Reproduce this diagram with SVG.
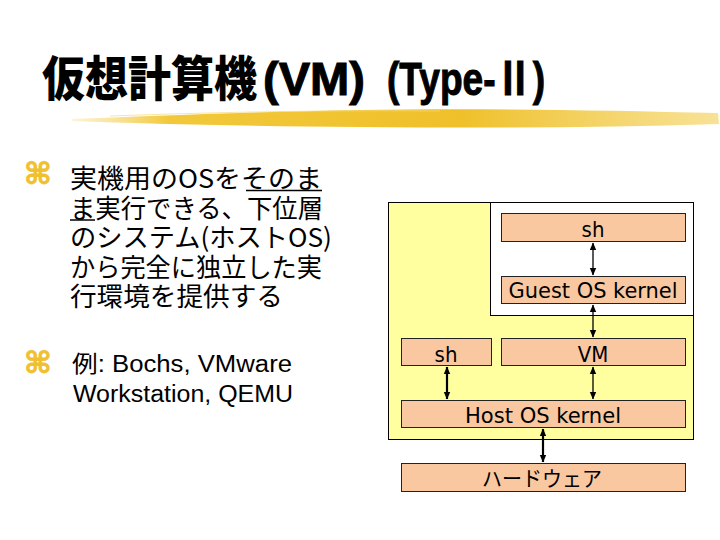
<svg xmlns="http://www.w3.org/2000/svg" width="720" height="540" viewBox="0 0 720 540">
<style>
.title{font-family:"Noto Sans CJK JP",sans-serif;font-weight:900;font-size:48px;fill:#000}
.titlel{font-family:"Liberation Sans","Noto Sans CJK JP",sans-serif;font-weight:bold;font-size:46px;fill:#000;stroke:#000;stroke-width:1}
.bul{font-family:"DejaVu Sans","Noto Sans CJK JP",sans-serif;font-weight:bold;fill:#F0C030;stroke:#F0C030;stroke-width:0.8;font-size:30px}
.body{font-family:"Noto Sans CJK JP",sans-serif;font-size:26px;fill:#000}
.body2{font-family:"Liberation Sans","Noto Sans CJK JP",sans-serif;font-size:23px;fill:#000}
.box{fill:#FAC8A0;stroke:#222;stroke-width:1}
.lbl{font-family:"DejaVu Sans Condensed","DejaVu Sans",sans-serif;font-size:22px;fill:#000;text-anchor:middle}
.lblj{font-family:"Noto Sans CJK JP",sans-serif;font-size:21px;fill:#000;text-anchor:middle}
.c1{stroke:#000;stroke-width:1.3;fill:none}
.c2{stroke:#000;stroke-width:2.2;fill:none}
</style>
<defs>
<marker id="ah" markerWidth="8" markerHeight="8" refX="7" refY="4" orient="auto-start-reverse" markerUnits="userSpaceOnUse">
<path d="M0,0.8 L7.5,4 L0,7.2 Z" fill="#000"/>
</marker>
<linearGradient id="brush" x1="0" y1="0" x2="1" y2="0">
<stop offset="0" stop-color="#F6D870" stop-opacity="0.3"/>
<stop offset="0.15" stop-color="#F2C83A"/>
<stop offset="0.6" stop-color="#EFC02A"/>
<stop offset="1" stop-color="#F3CE50" stop-opacity="0.6"/>
</linearGradient>
</defs>
<rect width="720" height="540" fill="#fff"/>
<g id="title">
<text class="title" x="42" y="96" textLength="215" lengthAdjust="spacingAndGlyphs">仮想計算機</text>
<text class="titlel" x="263" y="95" textLength="102" lengthAdjust="spacingAndGlyphs">(VM)</text>
<text class="titlel" x="387" y="95" textLength="158" lengthAdjust="spacingAndGlyphs">(Type-Ⅱ)</text>
<path d="M72,119 C150,116 250,112 360,110 C470,108 600,110 718,113 L719,124 C600,128 480,128 360,127 C250,126 150,124 72,121 Z" fill="url(#brush)"/>
<path d="M110,116 C220,112 330,110 440,111" stroke="#F7DA7A" stroke-width="1" fill="none" opacity="0.7"/>
</g>
<g id="bullets">
<text class="bul" x="24" y="184">⌘</text>
<text class="body" x="70" y="188" textLength="252" lengthAdjust="spacingAndGlyphs">実機用のOSをそのま</text>
<text class="body" x="70" y="217.5" textLength="253" lengthAdjust="spacingAndGlyphs">ま実行できる、下位層</text>
<text class="body" x="70" y="247" textLength="262" lengthAdjust="spacingAndGlyphs">のシステム(ホストOS)</text>
<text class="body" x="70" y="276.5" textLength="252" lengthAdjust="spacingAndGlyphs">から完全に独立した実</text>
<text class="body" x="70" y="306" textLength="213" lengthAdjust="spacingAndGlyphs">行環境を提供する</text>
<line x1="246" y1="190.5" x2="322" y2="190.5" stroke="#000" stroke-width="1.5"/>
<line x1="70" y1="220" x2="95" y2="220" stroke="#000" stroke-width="1.5"/>
<text class="bul" x="24" y="373">⌘</text>
<text class="body2" x="72" y="372" textLength="220" lengthAdjust="spacingAndGlyphs">例: Bochs, VMware</text>
<text class="body2" x="73" y="402" textLength="220" lengthAdjust="spacingAndGlyphs">Workstation, QEMU</text>
</g>
<g id="host-area">
<rect x="388.5" y="202.5" width="305" height="237" fill="#FFFFA0" stroke="#000" stroke-width="1"/>
</g>
<g id="guest-area">
<rect x="490.5" y="202.5" width="203" height="113" fill="#fff" stroke="#000" stroke-width="1"/>
</g>
<g id="guest-sh">
<rect class="box" x="501.5" y="213.5" width="184" height="28"/>
<text class="lbl" x="593" y="237">sh</text>
</g>
<g id="guest-kernel">
<rect class="box" x="501.5" y="276.5" width="184" height="27"/>
<text class="lbl" x="593" y="298" textLength="169" lengthAdjust="spacingAndGlyphs">Guest OS kernel</text>
</g>
<g id="host-sh">
<rect class="box" x="401.5" y="338.5" width="90" height="27"/>
<text class="lbl" x="446" y="362">sh</text>
</g>
<g id="vm">
<rect class="box" x="501.5" y="338.5" width="184" height="27"/>
<text class="lbl" x="593" y="362">VM</text>
</g>
<g id="host-kernel">
<rect class="box" x="401.5" y="400.5" width="284" height="27"/>
<text class="lbl" x="543" y="423" textLength="156" lengthAdjust="spacingAndGlyphs">Host OS kernel</text>
</g>
<g id="hardware">
<rect class="box" x="401.5" y="463.5" width="284" height="28"/>
<text class="lblj" x="542" y="486" textLength="120" lengthAdjust="spacingAndGlyphs">ハードウェア</text>
</g>
<g id="connectors">
<line class="c1" x1="593" y1="243" x2="593" y2="275" marker-start="url(#ah)" marker-end="url(#ah)"/>
<line class="c1" x1="593" y1="305" x2="593" y2="337" marker-start="url(#ah)" marker-end="url(#ah)"/>
<line class="c1" x1="593" y1="367" x2="593" y2="399" marker-start="url(#ah)" marker-end="url(#ah)"/>
<line class="c2" x1="447" y1="367" x2="447" y2="399" marker-start="url(#ah)" marker-end="url(#ah)"/>
<line class="c2" x1="543" y1="429" x2="543" y2="462" marker-start="url(#ah)" marker-end="url(#ah)"/>
</g>
</svg>
